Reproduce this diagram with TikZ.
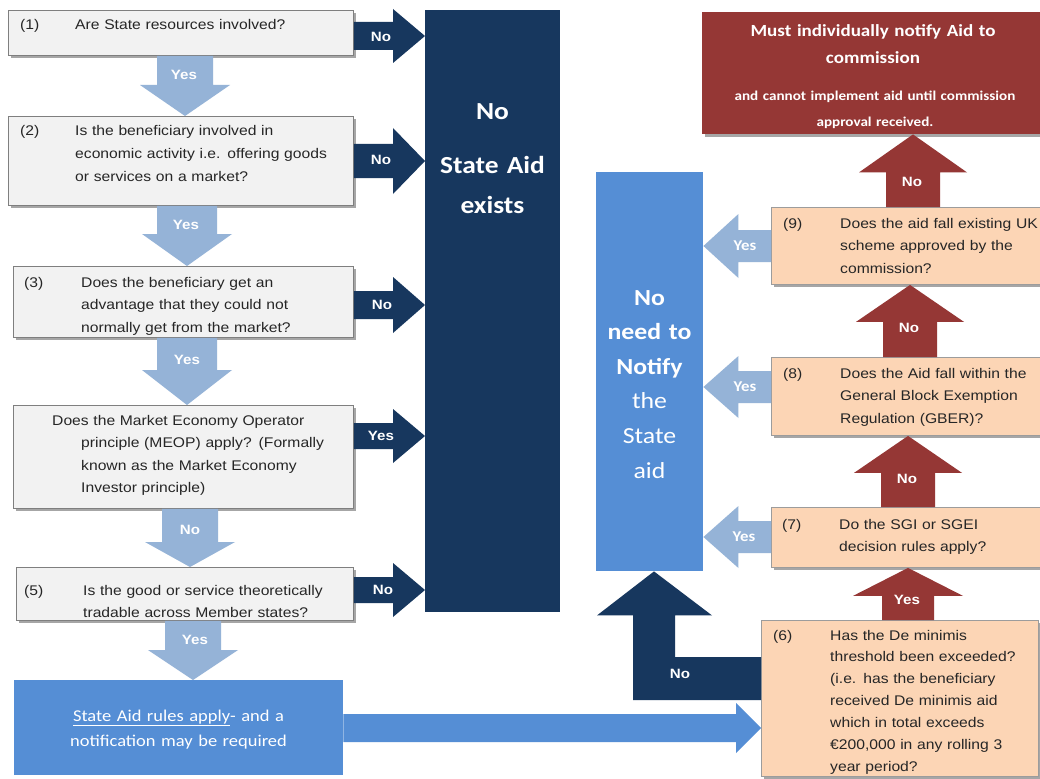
\documentclass[tikz,border=0pt]{standalone}
\usepackage{fontspec}
\setmainfont[FakeStretch=1.12]{Liberation Sans}
\newfontfamily\calfont[FakeStretch=1.12]{Carlito}
\usetikzlibrary{calc,shadows}
\definecolor{navy}{HTML}{17375E}
\definecolor{lblue}{HTML}{95B3D7}
\definecolor{mblue}{HTML}{558ED5}
\definecolor{dred}{HTML}{953735}
\definecolor{peach}{HTML}{FCD5B5}
\definecolor{qgray}{HTML}{F2F2F2}
\definecolor{qline}{HTML}{7F7F7F}
\definecolor{pline}{HTML}{9C9C9C}
\definecolor{txtcol}{HTML}{262626}
\newcommand\qfont{\fontsize{14}{22.5}\selectfont}
\newcommand\lblfont{\bfseries\fontsize{13.5}{14}\selectfont}
\newcommand\vblk[6]{\fill[#6] ($(#1)+({-(#3)},0)$) -- ($(#2)+({-(#3)},{-(#5)})$) -- ($(#2)+({-(#4)},{-(#5)})$) -- (#2) -- ($(#2)+(#4,{-(#5)})$) -- ($(#2)+(#3,{-(#5)})$) -- ($(#1)+(#3,0)$) -- cycle;}
\newcommand\hblk[6]{\fill[#6] ($(#1)+(0,{-(#3)})$) -- ($(#2)+({-(#5)},{-(#3)})$) -- ($(#2)+({-(#5)},{-(#4)})$) -- (#2) -- ($(#2)+({-(#5)},#4)$) -- ($(#2)+({-(#5)},#3)$) -- ($(#1)+(0,#3)$) -- cycle;}
\tikzset{
  shadowed/.style={drop shadow={shadow xshift=2.5pt,shadow yshift=-2.5pt,opacity=0.35,fill=black}},
  qbox/.style={anchor=north west,draw=qline,fill=qgray,line width=0.9pt,inner sep=0,shadowed},
  pbox/.style={anchor=north west,draw=pline,fill=peach,line width=0.9pt,inner sep=0,shadowed},
  solidbox/.style={anchor=north west,inner sep=0,fill=#1},
  num/.style={anchor=base west,inner sep=0,font=\qfont,text=txtcol},
  qtxt/.style={anchor=base west,inner sep=0,text width=300pt,align=left,font=\qfont,text=txtcol},
  lbl/.style={inner sep=0,font=\lblfont,text=white},
  clbl/.style={inner sep=0,font=\calfont\bfseries\fontsize{15}{16}\selectfont,text=white}
}
\begin{document}
\begin{tikzpicture}[x=1pt,y=-1pt]
\useasboundingbox (0,0) rectangle (1040,778);
\fill[white] (0,0) rectangle (1040,778);

% ---------- left question boxes ----------
\node[qbox,minimum width=345,minimum height=45] (b1) at (8,10) {};
\node[qbox,minimum width=345,minimum height=89] (b2) at (8,116) {};
\node[qbox,minimum width=340,minimum height=71] (b3) at (13,266) {};
\node[qbox,minimum width=340,minimum height=103] (b4) at (13,405) {};
\node[qbox,minimum width=337,minimum height=53] (b5) at (16,567) {};
\node[solidbox=mblue,minimum width=329,minimum height=95] (sar) at (14,680) {};

\node[num] (b1n) at (20,30) {(1)};
\node[qtxt] (b1t) at (75,30) {Are State resources involved?};
\node[num] (b2n) at (20,136) {(2)};
\node[qtxt] (b2t) at (75,136) {Is the beneficiary involved in\\economic activity i.e. offering goods\\or services on a market?};
\node[num] (b3n) at (24,287) {(3)};
\node[qtxt] (b3t) at (81,287) {Does the beneficiary get an\\advantage that they could not\\normally get from the market?};
\node[qtxt] (b4t) at (52,425) {Does the Market Economy Operator\\\hspace*{29pt}principle (MEOP) apply? (Formally\\\hspace*{29pt}known as the Market Economy\\\hspace*{29pt}Investor principle)};
\node[num] (b5n) at (24,595) {(5)};
\node[qtxt] (b5t) at (83,595) {Is the good or service theoretically\\tradable across Member states?};
\node[anchor=base,inner sep=0,text width=320pt,align=center,text=white,font=\calfont\fontsize{16.5}{25}\selectfont] (sart) at (178.5,721) {\underline{State Aid rules apply}- and a\\notification may be required};

% ---------- big dark and blue boxes ----------
\node[solidbox=navy,minimum width=135,minimum height=602] (nosa) at (425,10) {};
\node[anchor=base,inner sep=0,text width=130pt,align=center,text=white,font=\calfont\bfseries\fontsize{24.5}{40}\selectfont] (nosat) at (492.5,120) {No\\[14pt]State Aid\\exists};
\node[solidbox=mblue,minimum width=107,minimum height=399] (notify) at (596,172) {};
\node[anchor=base,inner sep=0,text width=105pt,align=center,text=white,font=\calfont\fontsize{23}{34.6}\selectfont] (notifyt) at (649.5,305) {{\bfseries No}\\{\bfseries need to}\\{\bfseries Notify}\\{\mdseries the}\\{\mdseries State}\\{\mdseries aid}};
\node[solidbox=dred,minimum width=340,minimum height=122,shadowed] (must) at (702,12) {};
\node[anchor=base,inner sep=0,text width=330pt,align=center,text=white,font=\calfont\bfseries\fontsize{17}{27}\selectfont] (mustt1) at (873,37) {Must individually notify Aid to\\commission};
\node[anchor=base,inner sep=0,text width=330pt,align=center,text=white,font=\calfont\bfseries\fontsize{13.5}{26}\selectfont] (mustt2) at (875,101) {and cannot implement aid until commission\\approval received.};

% ---------- right question boxes ----------
\node[pbox,minimum width=273,minimum height=77] (q9) at (771,207) {};
\node[pbox,minimum width=273,minimum height=78] (q8) at (771,357) {};
\node[pbox,minimum width=273,minimum height=60] (q7) at (771,507) {};
\node[pbox,minimum width=277,minimum height=156] (q6) at (761,620) {};

\node[num] (q9n) at (783,228) {(9)};
\node[qtxt] (q9t) at (840,228) {Does the aid fall existing UK\\scheme approved by the\\commission?};
\node[num] (q8n) at (783,378) {(8)};
\node[qtxt] (q8t) at (840,378) {Does the Aid fall within the\\General Block Exemption\\Regulation (GBER)?};
\node[num] (q7n) at (782,529) {(7)};
\node[qtxt] (q7t) at (839,529) {Do the SGI or SGEI\\decision rules apply?};
\node[num] (q6n) at (773,640) {(6)};
\node[qtxt,font=\fontsize{14}{21.9}\selectfont] (q6t) at (830,640) {Has the De minimis\\threshold been exceeded?\\(i.e. has the beneficiary\\received De minimis aid\\which in total exceeds\\€200,000 in any rolling 3\\year period?};

% ---------- light blue down arrows (Yes / No) ----------
\coordinate (a1s) at ($(b1.south west)+(177,0)$); \coordinate (a1e) at (a1s |- b2.north);
\coordinate (a2s) at ($(b2.south west)+(179,0)$); \coordinate (a2e) at (a2s |- b3.north);
\coordinate (a3s) at ($(b3.south west)+(174,0)$); \coordinate (a3e) at (a3s |- b4.north);
\coordinate (a4s) at ($(b4.south west)+(177,0)$); \coordinate (a4e) at (a4s |- b5.north);
\coordinate (a5s) at ($(b5.south west)+(177,0)$); \coordinate (a5e) at (a5s |- sar.north);
\vblk{a1s}{a1e}{28}{45}{31}{lblue}
\vblk{a2s}{a2e}{30}{45}{32}{lblue}
\vblk{a3s}{a3e}{30}{45}{35}{lblue}
\vblk{a4s}{a4e}{28}{45}{25}{lblue}
\vblk{a5s}{a5e}{28}{45}{30}{lblue}
\node[lbl] (a1l) at (184,75) {Yes};
\node[lbl] (a2l) at (186,225) {Yes};
\node[lbl] (a3l) at (187,360) {Yes};
\node[lbl] (a4l) at (190,530) {No};
\node[lbl] (a5l) at (195,640) {Yes};

% ---------- navy right arrows ----------
\coordinate (n1s) at ($(b1.north east)+(0,26)$); \coordinate (n1e) at (n1s -| nosa.west);
\coordinate (n2s) at ($(b2.north east)+(0,45)$); \coordinate (n2e) at (n2s -| nosa.west);
\coordinate (n3s) at ($(b3.north east)+(0,39)$); \coordinate (n3e) at (n3s -| nosa.west);
\coordinate (n4s) at ($(b4.north east)+(0,31)$); \coordinate (n4e) at (n4s -| nosa.west);
\coordinate (n5s) at ($(b5.north east)+(0,23)$); \coordinate (n5e) at (n5s -| nosa.west);
\hblk{n1s}{n1e}{14}{27}{32}{navy}
\hblk{n2s}{n2e}{17}{33}{32}{navy}
\hblk{n3s}{n3e}{14}{28}{32}{navy}
\hblk{n4s}{n4e}{13}{27}{32}{navy}
\hblk{n5s}{n5e}{13}{27}{32}{navy}
\node[lbl] (n1l) at (381,37) {No};
\node[lbl] (n2l) at (381,160) {No};
\node[lbl] (n3l) at (382,305) {No};
\node[lbl] (n4l) at (381,436) {Yes};
\node[lbl] (n5l) at (383,590) {No};

% ---------- big blue arrow to (6) ----------
\coordinate (bs) at ($(sar.north east)+(0,48)$); \coordinate (be) at (bs -| q6.west);
\hblk{bs}{be}{14}{25}{25}{mblue}

% ---------- navy elbow arrow (6) -> notify ----------
\coordinate (et) at ($(notify.south west)+(58,0)$);
\coordinate (er) at ($(et)+(21,44)$);
\coordinate (el) at ($(et)+(-21,44)$);
\coordinate (e1) at ($(q6.north west)+(0,37)$);
\coordinate (e2) at ($(q6.north west)+(0,80)$);
\fill[navy] (e1) -- (e1 -| er) -- (er) -- ($(et)+(58,44)$) -- (et) -- ($(et)+(-57,44)$) -- (el) -- (el |- e2) -- (e2) -- cycle;
\node[lbl] (el1) at (680,674) {No};

% ---------- red up arrows ----------
\coordinate (r9s) at ($(q9.north west)+(142,0)$); \coordinate (r9e) at (r9s |- must.south);
\coordinate (r8s) at ($(q8.north west)+(139,0)$); \coordinate (r8e) at (r8s |- q9.south);
\coordinate (r7s) at ($(q7.north west)+(137,0)$); \coordinate (r7e) at (r7s |- q8.south);
\coordinate (r6s) at ($(q6.north west)+(147,0)$); \coordinate (r6e) at (r6s |- q7.south);
\vblk{r9s}{r9e}{27}{54}{-38}{dred}
\vblk{r8s}{r8e}{27}{54}{-37}{dred}
\vblk{r7s}{r7e}{27}{54}{-37}{dred}
\vblk{r6s}{r6e}{26}{55}{-28}{dred}
\node[lbl] (r9l) at (912,182) {No};
\node[lbl] (r8l) at (909,328) {No};
\node[lbl] (r7l) at (907,479) {No};
\node[lbl] (r6l) at (907,600) {Yes};

% ---------- light blue left arrows ----------
\coordinate (y9s) at ($(q9.north west)+(0,39)$); \coordinate (y9e) at (y9s -| notify.east);
\coordinate (y8s) at ($(q8.north west)+(0,30)$); \coordinate (y8e) at (y8s -| notify.east);
\coordinate (y7s) at ($(q7.north west)+(0,30)$); \coordinate (y7e) at (y7s -| notify.east);
\hblk{y9s}{y9e}{16}{32}{-35}{lblue}
\hblk{y8s}{y8e}{16}{31}{-35}{lblue}
\hblk{y7s}{y7e}{16}{31}{-35}{lblue}
\node[clbl] (y9l) at (745,246) {Yes};
\node[clbl] (y8l) at (745,387) {Yes};
\node[clbl] (y7l) at (744,537) {Yes};
\end{tikzpicture}
\end{document}
